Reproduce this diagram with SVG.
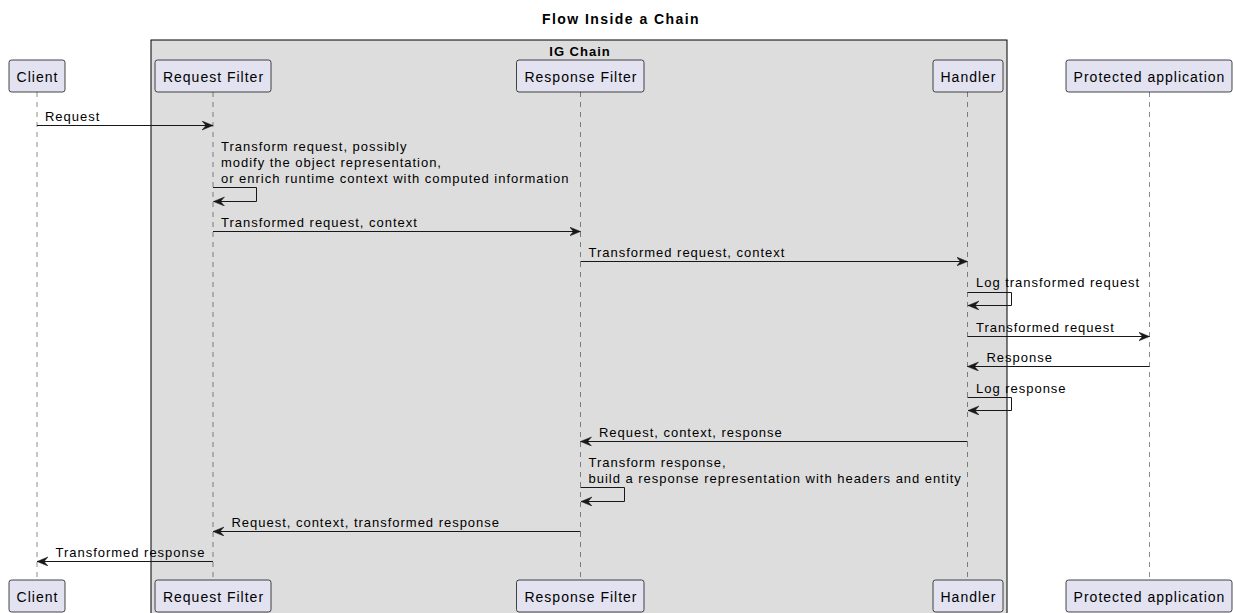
<svg xmlns="http://www.w3.org/2000/svg" width="1233" height="613" viewBox="0 0 1233 613">
<style>
text{font-family:"Liberation Sans",Arial,sans-serif;fill:#000}
.title{font-size:14px;font-weight:bold;letter-spacing:1.45px}
.box{font-size:13px;font-weight:bold;letter-spacing:1px}
.pt{font-size:14px;letter-spacing:1px}
.msg{font-size:13px;letter-spacing:0.98px}
.part{fill:#E2E2F0;stroke:#181818;stroke-width:0.8}
.life{stroke:#181818;stroke-width:0.5;stroke-dasharray:5,5;fill:none}
.arr{stroke:#181818;stroke-width:1;fill:none;marker-end:url(#ah)}
</style>
<defs>
<marker id="ah" markerUnits="userSpaceOnUse" markerWidth="13" markerHeight="11" refX="11" refY="4.5" orient="auto">
<path d="M0,0 L11,4.5 L0,9 L4,4.5 Z" fill="#181818" stroke="#181818" stroke-width="0.5"/>
</marker>
</defs>
<rect width="1233" height="613" fill="#fff"/>
<text class="title" x="621" y="24" text-anchor="middle">Flow Inside a Chain</text>
<g id="ig-chain">
<rect x="151" y="40" width="856" height="576" fill="#DDDDDD" stroke="#000" stroke-width="1"/>
<text class="box" x="580" y="56" text-anchor="middle">IG Chain</text>
</g>
<g id="lifelines">
<line class="life" x1="37" y1="92" x2="37" y2="580"/>
<line class="life" x1="213" y1="92" x2="213" y2="580"/>
<line class="life" x1="580.5" y1="92" x2="580.5" y2="580"/>
<line class="life" x1="967.5" y1="92" x2="967.5" y2="580"/>
<line class="life" x1="1149.5" y1="92" x2="1149.5" y2="580"/>
</g>
<g id="client">
<rect class="part" x="9" y="60" width="56" height="32" rx="2.5"/>
<text class="pt" x="37.5" y="82" text-anchor="middle">Client</text>
<rect class="part" x="9" y="580" width="56" height="32" rx="2.5"/>
<text class="pt" x="37.5" y="602" text-anchor="middle">Client</text>
</g>
<g id="request-filter">
<rect class="part" x="155" y="60" width="116" height="32" rx="2.5"/>
<text class="pt" x="213.5" y="82" text-anchor="middle">Request Filter</text>
<rect class="part" x="155" y="580" width="116" height="32" rx="2.5"/>
<text class="pt" x="213.5" y="602" text-anchor="middle">Request Filter</text>
</g>
<g id="response-filter">
<rect class="part" x="516.5" y="60" width="127.5" height="32" rx="2.5"/>
<text class="pt" x="581" y="82" text-anchor="middle">Response Filter</text>
<rect class="part" x="516.5" y="580" width="127.5" height="32" rx="2.5"/>
<text class="pt" x="581" y="602" text-anchor="middle">Response Filter</text>
</g>
<g id="handler">
<rect class="part" x="933" y="60" width="70" height="32" rx="2.5"/>
<text class="pt" x="968.5" y="82" text-anchor="middle">Handler</text>
<rect class="part" x="933" y="580" width="70" height="32" rx="2.5"/>
<text class="pt" x="968.5" y="602" text-anchor="middle">Handler</text>
</g>
<g id="protected-application">
<rect class="part" x="1066" y="60" width="166" height="32" rx="2.5"/>
<text class="pt" x="1149.5" y="82" text-anchor="middle">Protected application</text>
<rect class="part" x="1066" y="580" width="166" height="32" rx="2.5"/>
<text class="pt" x="1149.5" y="602" text-anchor="middle">Protected application</text>
</g>
<g id="connectors">
<line class="arr" x1="37" y1="125.5" x2="213" y2="125.5"/>
<text class="msg" x="45" y="121">Request</text>
<text class="msg" x="221" y="151">Transform request, possibly</text>
<text class="msg" x="221" y="167">modify the object representation,</text>
<text class="msg" x="221" y="183">or enrich runtime context with computed information</text>
<polyline class="arr" points="213,187.5 256.5,187.5 256.5,201.5 213.5,201.5"/>
<line class="arr" x1="213" y1="231.5" x2="580.5" y2="231.5"/>
<text class="msg" x="221" y="227">Transformed request, context</text>
<line class="arr" x1="580.5" y1="261.5" x2="967.5" y2="261.5"/>
<text class="msg" x="588.5" y="257">Transformed request, context</text>
<text class="msg" x="976" y="287">Log transformed request</text>
<polyline class="arr" points="967.5,292.5 1011.5,292.5 1011.5,305.5 968,305.5"/>
<line class="arr" x1="967.5" y1="336.5" x2="1149.5" y2="336.5"/>
<text class="msg" x="976" y="331.5">Transformed request</text>
<line class="arr" x1="1149.5" y1="366.5" x2="967.5" y2="366.5"/>
<text class="msg" x="986.5" y="362">Response</text>
<text class="msg" x="976" y="392.5">Log response</text>
<polyline class="arr" points="967.5,397.5 1011.5,397.5 1011.5,410.5 968,410.5"/>
<line class="arr" x1="967.5" y1="441.5" x2="580.5" y2="441.5"/>
<text class="msg" x="599" y="437">Request, context, response</text>
<text class="msg" x="588.5" y="467">Transform response,</text>
<text class="msg" x="588.5" y="483">build a response representation with headers and entity</text>
<polyline class="arr" points="580.5,487.5 624.5,487.5 624.5,501.5 581,501.5"/>
<line class="arr" x1="580.5" y1="531.5" x2="213" y2="531.5"/>
<text class="msg" x="231.5" y="527">Request, context, transformed response</text>
<line class="arr" x1="213" y1="561.5" x2="37" y2="561.5"/>
<text class="msg" x="55.5" y="557">Transformed response</text>
</g>
</svg>
